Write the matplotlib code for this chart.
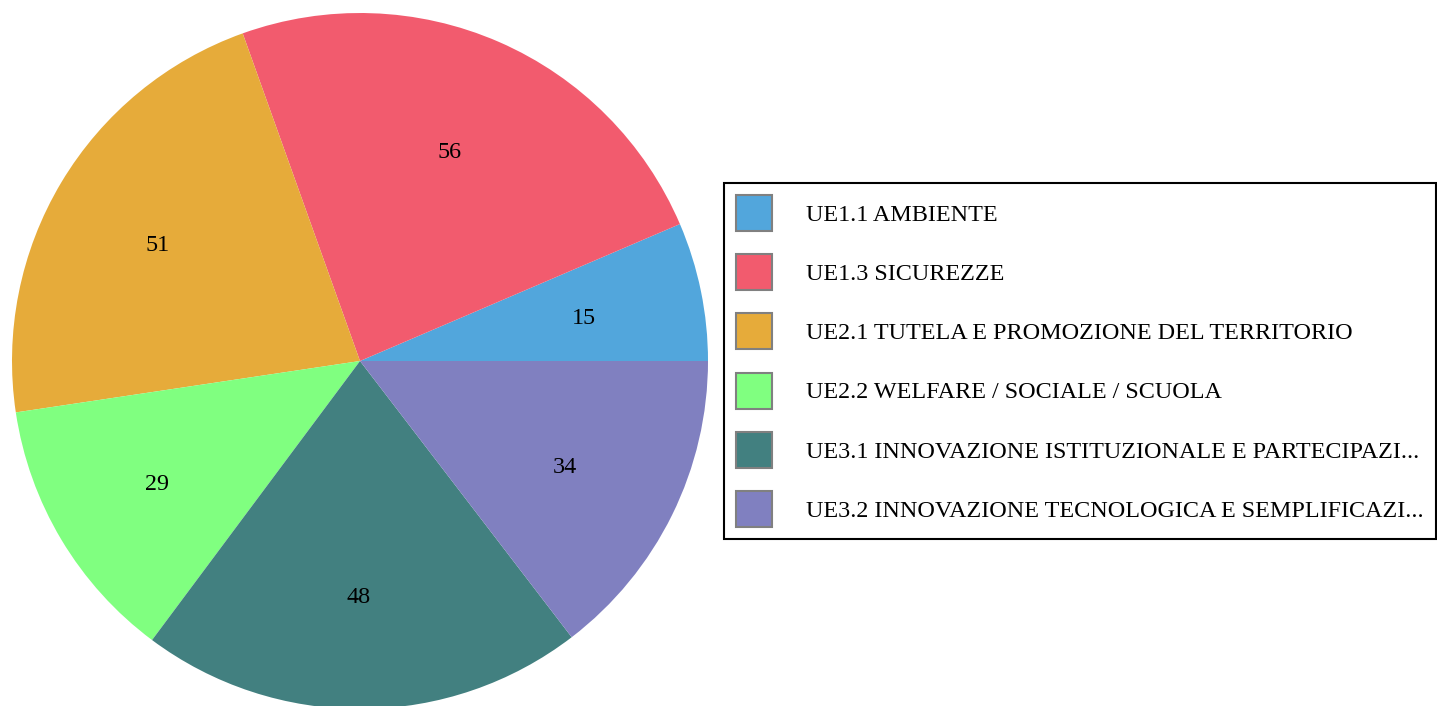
import matplotlib
matplotlib.use('Agg')
import matplotlib.pyplot as plt
import matplotlib.transforms as mtransforms
from matplotlib.patches import Patch

plt.rcParams['font.family'] = ['Liberation Serif', 'DejaVu Serif']

categories = ['UE1.1 AMBIENTE',
              'UE1.3 SICUREZZE',
              'UE2.1 TUTELA E PROMOZIONE DEL TERRITORIO',
              'UE2.2 WELFARE / SOCIALE / SCUOLA',
              'UE3.1 INNOVAZIONE ISTITUZIONALE E PARTECIPAZI...',
              'UE3.2 INNOVAZIONE TECNOLOGICA E SEMPLIFICAZI...']
values = [15, 56, 51, 29, 48, 34]
colors = ['#52A6DC', '#F25B6E', '#E6AB3A', '#80FF80', '#428080', '#8080C0']

W, H = 1437, 706
fs = 17.4
fig = plt.figure(figsize=(W / 100, H / 100), dpi=100)

# pie centre and radius in pixels
cx, cy, r = 360, 361, 348
ax = fig.add_axes([(cx - r) / W, (H - cy - r) / H, 2 * r / W, 2 * r / H])
wedges, _, autotexts = ax.pie(values, colors=colors, startangle=0,
                              counterclock=True, radius=1,
                              autopct=lambda p: f'{p * sum(values) / 100:.0f}',
                              pctdistance=0.667,
                              wedgeprops={'linewidth': 0})
# small nudge so the numbers sit where the original renderer put them
nudge = mtransforms.offset_copy(ax.transData, fig=fig, x=-3.5, y=-4,
                                units='dots')
for t in autotexts:
    t.set_fontsize(fs)
    t.set_color('black')
    t.set_transform(nudge)
ax.set_xlim(-1, 1)
ax.set_ylim(-1, 1)
ax.axis('off')

for w in wedges:
    w.set_edgecolor('none')

# legend patches with grey border
handles = [Patch(facecolor=c, edgecolor='#808080', linewidth=1.5) for c in colors]
leg = fig.legend(handles, categories, loc='upper left',
                 bbox_to_anchor=(724 / W, 1 - 183 / H),
                 fontsize=fs, frameon=True, fancybox=False,
                 handlelength=1.49, handleheight=1.914, handletextpad=1.41,
                 labelspacing=0.96, borderpad=0.5, borderaxespad=0)
leg.get_frame().set_edgecolor('black')
leg.get_frame().set_linewidth(1.5)
leg.get_frame().set_alpha(1)

fig.savefig('out.png', dpi=100)
